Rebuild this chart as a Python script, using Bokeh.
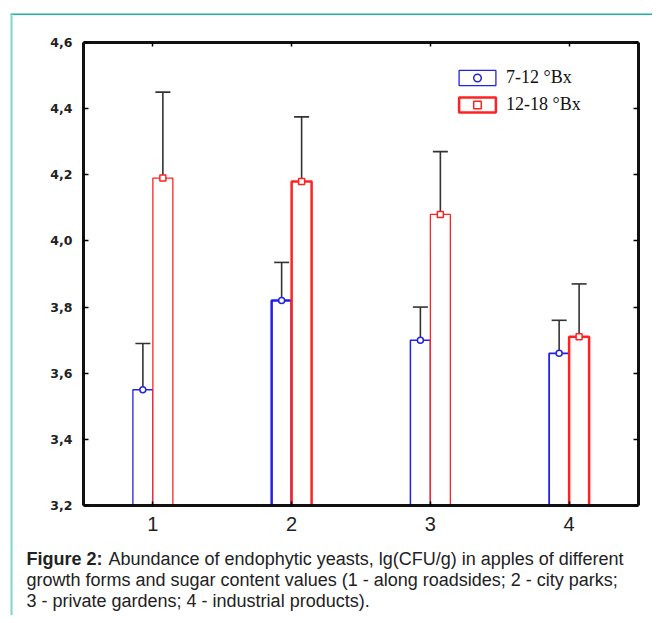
from bokeh.plotting import figure
from bokeh.models import (ColumnDataSource, Whisker, TeeHead, LinearAxis, FixedTicker,
                          CustomJSTickFormatter, Legend, LegendItem, Label, BoxAnnotation, Range1d)
from bokeh.transform import dodge
from bokeh.embed import file_html
from bokeh.resources import INLINE

# ---- data ----
groups = [1, 2, 3, 4]
group_labels = ["1", "2", "3", "4"]
blue_mean = [3.55, 3.82, 3.70, 3.66]
blue_err = [0.14, 0.115, 0.10, 0.10]
red_mean = [4.19, 4.18, 4.08, 3.71]
red_err = [0.26, 0.195, 0.19, 0.16]
series_names = ["7-12 °Bx", "12-18 °Bx"]
y_ticks = [3.2, 3.4, 3.6, 3.8, 4.0, 4.2, 4.4, 4.6]
caption_bold = "Figure 2:"
caption_lines = [
    "Abundance of endophytic yeasts, lg(CFU/g) in apples of different",
    "growth forms and sugar content values (1 - along roadsides; 2 - city parks;",
    "3 - private gardens; 4 - industrial products).",
]

# ---- layout / styles ----
W, H = 652, 615
BOX_L, BOX_R, BOX_T, BOX_B = 83, 638, 42, 505   # chart box in canvas pixels
X0, X1 = 0.5, 4.5
Y0, Y1 = y_ticks[0], y_ticks[-1]
BLUE = "#2222e6"
RED = "#ff2222"
TEAL = "#19b3a0"
BAR_W = 0.144
OFF = 0.072
blue_lw = [1.3, 2.5, 1.5, 1.8]
red_lw = [1.3, 2.5, 1.3, 2.5]

sx = (X1 - X0) / (BOX_R - BOX_L)
sy = (Y1 - Y0) / (BOX_B - BOX_T)
x_range = Range1d(X0 - BOX_L * sx, X1 + (W - BOX_R) * sx)
y_range = Range1d(Y0 - (H - BOX_B) * sy, Y1 + BOX_T * sy)

src = ColumnDataSource(dict(
    x=groups,
    base=[Y0] * len(groups),
    b=blue_mean, r=red_mean,
    b_lo=[m - e for m, e in zip(blue_mean, blue_err)],
    b_hi=[m + e for m, e in zip(blue_mean, blue_err)],
    r_lo=[m - e for m, e in zip(red_mean, red_err)],
    r_hi=[m + e for m, e in zip(red_mean, red_err)],
    blw=blue_lw, rlw=red_lw,
))

p = figure(width=W, height=H, output_backend="svg", toolbar_location=None,
           x_range=x_range, y_range=y_range, x_axis_type=None, y_axis_type=None,
           min_border=0)
p.grid.visible = False
p.background_fill_color = "white"
p.border_fill_color = "white"
p.outline_line_color = None

# bars
rb = p.vbar(x=dodge("x", -OFF, range=p.x_range), top="b", bottom="base", width=BAR_W,
            source=src, fill_color="white", line_color=BLUE, line_width="blw")
rr = p.vbar(x=dodge("x", OFF, range=p.x_range), top="r", bottom="base", width=BAR_W,
            source=src, fill_color="white", line_color=RED, line_width="rlw")

# error bars
for lo, hi, off in (("b_lo", "b_hi", -OFF), ("r_lo", "r_hi", OFF)):
    w = Whisker(base=dodge("x", off, range=p.x_range), lower=lo, upper=hi, source=src,
                dimension="height", line_color="#333333", line_width=1.6,
                upper_head=TeeHead(size=15, line_color="#333333", line_width=1.6),
                lower_head=TeeHead(size=15, line_color="#111111", line_width=1.8))
    p.add_layout(w)

# top markers
mb = p.scatter(x=dodge("x", -OFF, range=p.x_range), y="b", source=src, marker="circle",
               size=6, fill_color="white", line_color=BLUE, line_width=1.5)
mr = p.scatter(x=dodge("x", OFF, range=p.x_range), y="r", source=src, marker="square",
               size=6, fill_color="white", line_color=RED, line_width=1.5)

# axes forming the chart box
blank = CustomJSTickFormatter(code="return '';")
common = dict(minor_tick_line_color=None, axis_line_width=3, axis_line_color="#111111",
              major_tick_line_width=1.5, major_tick_out=0)

xa = LinearAxis(fixed_location=Y0, bounds=(X0, X1), ticker=FixedTicker(ticks=groups),
                major_tick_in=4, major_label_standoff=11,
                major_label_text_font="Liberation Sans", major_label_text_font_size="20px",
                major_label_text_color="#222222", **common)
xa.major_label_overrides = {g: l for g, l in zip(groups, group_labels)}
ya = LinearAxis(fixed_location=X0, bounds=(Y0, Y1), ticker=FixedTicker(ticks=y_ticks),
                formatter=CustomJSTickFormatter(code="return tick.toFixed(1).replace('.', ',');"),
                major_tick_in=5, major_label_standoff=11,
                major_label_text_font="DejaVu Sans", major_label_text_font_style="bold",
                major_label_text_font_size="12.5px", major_label_text_color="#222222", **common)
ra = LinearAxis(fixed_location=X1, bounds=(Y0, Y1), ticker=FixedTicker(ticks=y_ticks),
                formatter=blank, major_tick_in=5, major_label_standoff=0, **common)
ta = LinearAxis(fixed_location=Y1, bounds=(X0, X1), ticker=FixedTicker(ticks=groups),
                formatter=blank, major_tick_in=4, major_label_standoff=0, **common)
p.add_layout(xa, "below")
p.add_layout(ya, "left")
p.add_layout(ra, "right")
p.add_layout(ta, "above")

# legend
legend = Legend(items=[LegendItem(label=series_names[0], renderers=[rb, mb], index=0),
                       LegendItem(label=series_names[1], renderers=[rr, mr], index=1)],
                location=(454, H - 115), orientation="vertical",
                glyph_width=46, glyph_height=19, label_height=19, spacing=6,
                padding=0, margin=0, label_standoff=6,
                label_text_font="Liberation Serif", label_text_font_size="18px",
                label_text_color="#111111",
                border_line_alpha=0, background_fill_alpha=0)
p.add_layout(legend, "center")

# teal page frame: top and left edges only (drawn as thin filled strips)
p.add_layout(BoxAnnotation(left=10, right=W, top=H - 13, bottom=H - 14.5,
                           left_units="screen", right_units="screen",
                           top_units="screen", bottom_units="screen",
                           fill_color=TEAL, fill_alpha=1, line_color=None))
p.add_layout(BoxAnnotation(left=10, right=12, top=H - 13, bottom=0,
                           left_units="screen", right_units="screen",
                           top_units="screen", bottom_units="screen",
                           fill_color="#7fd6c9", fill_alpha=1, line_color=None))

# caption
cap_font = "Liberation Sans"
cap_size = "18px"
p.add_layout(Label(x=26, y=H - 568, x_units="screen", y_units="screen", text=caption_bold,
                   text_font=cap_font, text_font_size=cap_size, text_font_style="bold",
                   text_color="#222222"))
p.add_layout(Label(x=108, y=H - 568, x_units="screen", y_units="screen", text=caption_lines[0],
                   text_font=cap_font, text_font_size=cap_size, text_color="#222222"))
for i, line in enumerate(caption_lines[1:]):
    p.add_layout(Label(x=26, y=H - 589 - 21 * i, x_units="screen", y_units="screen", text=line,
                       text_font=cap_font, text_font_size=cap_size, text_color="#222222"))

open("out.html", "w").write(file_html(p, INLINE))
